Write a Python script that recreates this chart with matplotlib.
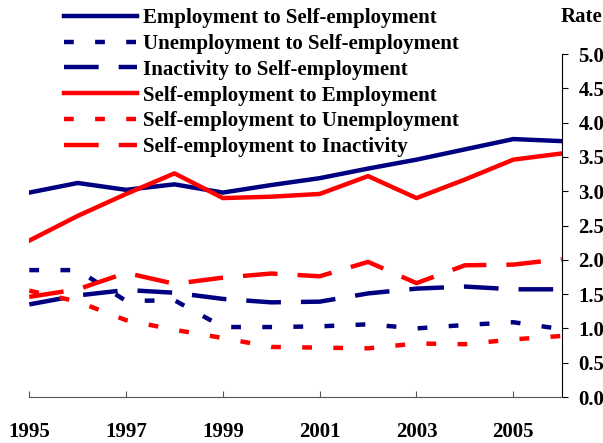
import numpy as np
import matplotlib
matplotlib.use('Agg')
import matplotlib.pyplot as plt

years = np.arange(1995, 2007)

emp_to_se = [2.98, 3.12, 3.02, 3.10, 2.98, 3.09, 3.19, 3.33, 3.46, 3.61, 3.76, 3.73]
unemp_to_se = [1.85, 1.85, 1.40, 1.41, 1.02, 1.02, 1.03, 1.06, 1.00, 1.05, 1.09, 0.99]
inact_to_se = [1.35, 1.48, 1.56, 1.52, 1.43, 1.38, 1.39, 1.51, 1.58, 1.61, 1.57, 1.57]
se_to_emp = [2.28, 2.64, 2.96, 3.26, 2.90, 2.92, 2.96, 3.22, 2.90, 3.17, 3.46, 3.55]
se_to_unemp = [1.55, 1.39, 1.12, 0.98, 0.86, 0.73, 0.72, 0.71, 0.78, 0.77, 0.84, 0.89]
se_to_inact = [1.46, 1.57, 1.81, 1.65, 1.74, 1.80, 1.76, 1.97, 1.66, 1.92, 1.93, 2.01]

labels = ['Employment to Self-employment', 'Unemployment to Self-employment',
          'Inactivity to Self-employment', 'Self-employment to Employment',
          'Self-employment to Unemployment', 'Self-employment to Inactivity']

navy = '#000080'
red = '#ff0000'
dot = (2.2, 4.8)
dash = (7.8, 4.5)

plt.rcParams['font.family'] = ['Liberation Serif', 'DejaVu Serif']
plt.rcParams['font.weight'] = 'bold'
plt.rcParams['font.size'] = 15

fig = plt.figure(figsize=(6.03, 4.43), dpi=100)
ax = fig.add_axes([0.0486, 0.1038, 0.8829, 0.7743])

lw = 3.2
ax.plot(years, emp_to_se, color=navy, lw=lw, label=labels[0])
ax.plot(years, unemp_to_se, color=navy, lw=lw, dashes=dot, label=labels[1])
ax.plot(years, inact_to_se, color=navy, lw=lw, dashes=dash, label=labels[2])
ax.plot(years, se_to_emp, color=red, lw=lw, label=labels[3])
ax.plot(years, se_to_unemp, color=red, lw=lw, dashes=dot, label=labels[4])
ax.plot(years, se_to_inact, color=red, lw=lw, dashes=dash, label=labels[5])

ax.set_xlim(1995, 2006)
ax.set_ylim(0, 5)
ax.set_xticks(np.arange(1995, 2006, 2))
ax.set_yticks(np.arange(0, 5.01, 0.5))
ax.set_yticklabels([f'{v:.1f}' for v in np.arange(0, 5.01, 0.5)])

ax.yaxis.tick_right()
ax.spines['left'].set_visible(False)
ax.spines['top'].set_visible(False)
ax.spines['bottom'].set_color('#555555')
ax.spines['right'].set_color('black')
ax.tick_params(axis='y', direction='out', length=4, pad=8, width=0.8)
ax.tick_params(axis='x', direction='in', length=4, pad=18, width=0.8, color='#555555')

fig.text(561 / 603, 1 - 17 / 443, 'Rate', ha='left', va='center')

fig.legend(loc='upper left', bbox_to_anchor=(64 / 603, 1 - 8 / 443), frameon=False,
           borderpad=0, borderaxespad=0, handlelength=3.5, handletextpad=0.3,
           labelspacing=0.28, fontsize=15)

fig.savefig('out.png', dpi=100)
